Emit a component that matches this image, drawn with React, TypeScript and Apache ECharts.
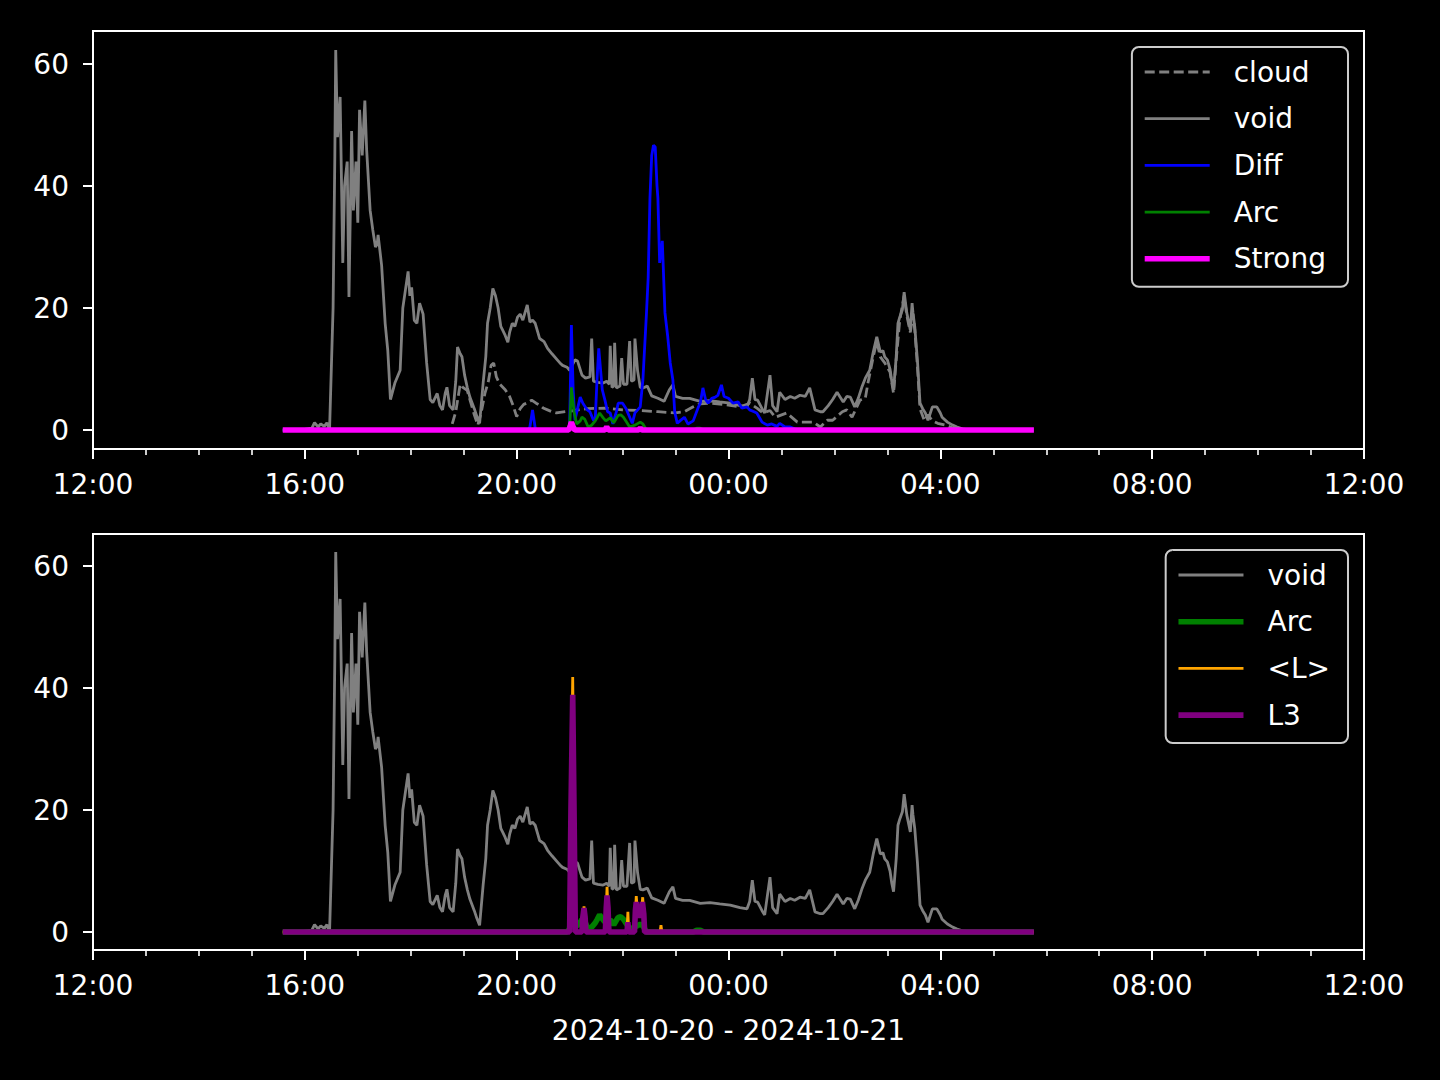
import React, { useEffect, useRef } from "react";
import * as echarts from "echarts";

// Time is given in minutes after 2024-10-20 12:00 (noon).
const X_TICK_MINUTES = [0, 240, 480, 720, 960, 1200, 1440];
const Y_TICKS = [0, 20, 40, 60];
const DATE_LABEL = "2024-10-20 - 2024-10-21";

const VOID: [number, number][] = [
  [215, 0], [235, 0], [248, 0.3], [251, 1.2], [255, 0.5], [258, 1.0], [262, 0.6], [265, 1.2], [268, 0],
  [272, 20], [274, 45], [275, 62.3], [277, 48], [280, 54.6], [283, 27.4], [285, 40], [288, 44], [290, 21.8],
  [293, 49], [295, 36], [298, 44], [300, 34], [302, 52.5], [305, 45], [308, 54], [310, 46], [314, 36],
  [317, 32.8], [320, 30], [322, 30.5], [323, 32], [327, 27], [331, 17.5], [334, 13], [337, 5], [342, 7.7],
  [348, 9.8], [351, 20], [355, 24], [357, 26], [359, 22], [361, 23.4], [364, 18], [367, 17.5], [370, 20.8],
  [374, 19], [378, 11], [382, 5], [385, 4.5], [390, 6], [393, 4], [396, 3.3], [399, 6], [401, 7], [404, 4],
  [408, 3.3], [411, 8], [413, 13.6], [416, 12.5], [418, 12], [421, 9], [424, 7], [427, 5.4], [432, 3.5],
  [435, 2.2], [438, 1.1], [442, 7.7], [445, 12], [447, 17.5], [450, 20], [453, 23.2], [456, 22], [459, 20],
  [462, 17], [464, 16.4], [467, 15.5], [470, 14.4], [472, 16], [475, 17.5], [478, 17], [481, 18.5], [484, 19],
  [487, 18], [492, 20.5], [495, 17.7], [498, 18], [501, 17.5], [504, 16], [506, 15], [511, 14.5], [515, 13.4],
  [520, 12.5], [526, 11.5], [529, 11], [532, 10.6], [537, 10.3], [540, 9.8], [546, 11.5], [549, 11.3],
  [554, 9], [558, 8.5], [563, 8.7], [565, 15], [567, 8], [572, 7.8], [578, 7.7], [582, 8], [585, 7.5],
  [586, 13.8], [588, 7], [590, 7.2], [591, 14.3], [593, 6.9], [597, 7.2], [599, 11.8], [601, 7.5], [605, 7.5],
  [608, 14.6], [610, 8], [613, 8.2], [614, 15], [617, 9.7], [620, 7], [623, 6.9], [628, 7.2], [633, 5.6],
  [640, 5.2], [647, 4.7], [653, 6.6], [657, 7.4], [660, 5.5], [668, 5.2], [676, 5.2], [688, 4.7], [699, 4.8],
  [710, 4.6], [722, 4.4], [733, 4.0], [741, 3.8], [744, 5], [747, 8.5], [750, 5], [753, 4.9], [758, 3.5],
  [761, 2.8], [767, 9], [770, 4], [775, 3], [778, 6.2], [784, 5], [790, 5.5], [795, 5.2], [801, 5.7],
  [807, 5.5], [812, 6.9], [818, 3.3], [824, 3], [827, 3], [833, 4], [838, 5], [843, 6.2], [850, 4.6],
  [854, 5.5], [858, 5.4], [863, 3.8], [867, 5.2], [871, 7], [875, 8.5], [880, 9.8], [884, 12.8], [888, 15.3],
  [892, 12.8], [895, 13], [897, 12], [900, 11.5], [903, 10], [905, 8], [907, 6.6], [910, 12], [912, 17.5],
  [914, 18.5], [917, 19.7], [919, 22.6], [922, 19.2], [926, 16.4], [928, 20.8], [929, 19.2], [931, 17],
  [934, 11.5], [937, 4.4], [940, 3.5], [943, 2.8], [946, 1.6], [951, 3.8], [956, 3.8], [960, 2.8], [962, 2.1],
  [968, 1.3], [974, 0.8], [979, 0.5], [985, 0.2], [994, 0], [1066, 0],
];

const CLOUD: [number, number][] = [
  [215, 0], [405, 0], [408, 1.5], [411, 3], [416, 7.5], [419, 7], [424, 6.5], [427, 5], [432, 2.5], [436, 0.8],
  [440, 3], [444, 6], [448, 8], [451, 10.6], [454, 11], [457, 8.7], [461, 7.5], [467, 6.6], [472, 5.5],
  [476, 4], [480, 2.2], [484, 3.5], [488, 4.2], [493, 4.5], [497, 4.9], [502, 4.4], [507, 4], [510, 3.6],
  [515, 3.3], [520, 3], [525, 2.8], [529, 2.9], [535, 3], [545, 3.2], [560, 3.5], [580, 3.6], [600, 3.3],
  [620, 3.2], [640, 3], [660, 2.8], [670, 3], [680, 3.8], [688, 4.3], [700, 4.4], [720, 4.1], [733, 3.8],
  [744, 4.4], [753, 3.5], [759, 2.8], [767, 3.2], [773, 2.1], [786, 2.8], [798, 1.3], [816, 1.3], [824, 0.5],
  [832, 1.6], [838, 1.6], [849, 3], [854, 3.3], [860, 2.1], [869, 4.9], [875, 5.2], [878, 7.7], [884, 12],
  [888, 14.5], [892, 12], [897, 11], [903, 9.5], [907, 6], [910, 11.5], [914, 18], [919, 22], [922, 18.8],
  [926, 16], [929, 19], [931, 16.5], [934, 10.5], [937, 3.5], [942, 1.5], [946, 2.5], [951, 1.5], [957, 1.1],
  [966, 0.8], [975, 0.3], [988, 0], [1066, 0],
];

const DIFF: [number, number][] = [
  [215, 0], [493, 0], [495, 0.5], [498, 3.3], [501, 0.3], [503, 0], [537, 0], [540, 0.5], [542, 17.2],
  [544, 6.6], [546, 1.6], [549, 3.5], [552, 5.4], [555, 4.4], [560, 3.3], [563, 3], [567, 1.6], [569, 1.6],
  [571, 8.2], [573, 13.4], [577, 6.6], [580, 4.9], [583, 3], [586, 2.8], [589, 1], [593, 3], [595, 4.4],
  [600, 4.4], [604, 3.5], [606, 2.8], [611, 1.1], [614, 2.8], [620, 3.8], [623, 8.2], [627, 19], [629, 25],
  [631, 38], [633, 45], [635, 46.7], [637, 46.4], [639, 40], [640, 38], [642, 27.4], [645, 31], [648, 19.2],
  [651, 15.5], [654, 11], [657, 8.2], [659, 3], [662, 1.1], [665, 1.5], [670, 2.1], [674, 1], [680, 1.5],
  [686, 3.8], [688, 4.4], [691, 6.9], [694, 5], [697, 4.4], [701, 5.2], [705, 5.4], [708, 5.7], [712, 7.4],
  [715, 5.5], [720, 5.2], [725, 4.4], [731, 4.6], [735, 3.6], [741, 3.8], [744, 3.3], [749, 3], [752, 2.8],
  [756, 1.8], [758, 1.3], [764, 0.8], [769, 1], [775, 0.6], [778, 1.1], [784, 0.5], [790, 0.5], [795, 0.2],
  [801, 0], [1066, 0],
];

const ARC: [number, number][] = [
  [215, 0], [537, 0], [540, 0.5], [542, 7], [545, 3], [548, 1], [552, 1.5], [554, 2.1], [557, 1.8],
  [561, 0.5], [565, 0.8], [569, 1.5], [571, 2], [574, 2.8], [578, 2], [581, 1.5], [586, 2], [590, 1.2],
  [595, 2.4], [598, 2.5], [601, 2.1], [605, 1.2], [608, 0.5], [614, 0.8], [620, 1.3], [623, 1], [627, 0],
  [680, 0], [684, 0.3], [688, 0.3], [692, 0], [1066, 0],
];

const STRONG: [number, number][] = [
  [215, 0], [539, 0], [541, 0.8], [542, 1.3], [544, 0.5], [546, 0], [580, 0], [582, 0.5], [584, 0],
  [618, 0], [620, 0.3], [622, 0], [1066, 0],
];

const L_MEAN: [number, number][] = [
  [215, 0], [540, 0], [541.5, 21], [543.5, 41.8], [545, 21], [546.5, 0], [554, 0], [556.3, 4.2], [558.5, 0],
  [580.5, 0], [582.4, 7.4], [584.5, 0], [605, 0], [606, 3.3], [607, 0], [613.5, 0], [615.5, 5.9], [617, 3],
  [619, 2.5], [621, 3], [622.8, 5.7], [625, 0], [642.5, 0], [643.5, 1.1], [644.5, 0], [1066, 0],
];

const L3: [number, number][] = [
  [215, 0], [540, 0], [541.5, 20], [543.5, 38.9], [545, 20], [546.5, 0], [554, 0], [555, 2.5], [556.3, 3.9],
  [557.5, 2.5], [558.5, 0], [580.5, 0], [581.5, 4], [582.4, 6], [583.5, 4], [584.5, 0], [605, 0], [606, 1.6],
  [607, 0], [613.5, 0], [614.5, 3.5], [615.5, 4.9], [617, 3], [619, 2.5], [621, 3], [622.5, 4.9], [624, 3],
  [625, 0], [1066, 0],
];

const GRAY = "#808080";
const BLUE = "#0000ff";
const GREEN = "#008000";
const MAGENTA = "#ff00ff";
const ORANGE = "#ffa500";
const PURPLE = "#800080";
const FONT = "DejaVu Sans";

const pad2 = (n: number) => (n < 10 ? "0" + n : "" + n);
const fmtTime = (m: number) => {
  const h = (12 + Math.floor(m / 60)) % 24;
  return pad2(h) + ":" + pad2(Math.round(m % 60));
};

export default function App() {
  const ref = useRef<HTMLDivElement>(null);

  useEffect(() => {
    if (!ref.current) return;
    const chart = echarts.init(ref.current, undefined, { renderer: "svg" });

    const xAxisBase = (gridIndex: number, withName: boolean) => ({
      type: "value",
      gridIndex,
      min: X_TICK_MINUTES[0],
      max: X_TICK_MINUTES[X_TICK_MINUTES.length - 1],
      interval: 240,
      axisLine: { show: true, onZero: false, lineStyle: { color: "#fff", width: 2 } },
      axisTick: { show: true, inside: false, length: 10, lineStyle: { color: "#fff", width: 2 } },
      minorTick: { show: true, splitNumber: 4, length: 6, lineStyle: { color: "#fff", width: 1.6 } },
      axisLabel: {
        color: "#fff",
        fontSize: 28,
        fontFamily: FONT,
        margin: 21,
        formatter: (v: number) => fmtTime(v),
      },
      splitLine: { show: false },
      minorSplitLine: { show: false },
      ...(withName
        ? {
            name: DATE_LABEL,
            nameLocation: "middle",
            nameGap: 66,
            nameTextStyle: { color: "#fff", fontSize: 28, fontFamily: FONT },
          }
        : {}),
    });

    const yAxisBase = (gridIndex: number, min: number, max: number) => ({
      type: "value",
      gridIndex,
      min,
      max,
      axisLine: { show: true, onZero: false, lineStyle: { color: "#fff", width: 2 } },
      axisTick: {
        show: true,
        inside: false,
        length: 10,
        customValues: Y_TICKS,
        lineStyle: { color: "#fff", width: 2 },
      },
      axisLabel: {
        color: "#fff",
        fontSize: 28,
        fontFamily: FONT,
        margin: 24,
        customValues: Y_TICKS,
      },
      splitLine: { show: false },
    });

    const line = (
      name: string,
      data: [number, number][],
      color: string,
      width: number,
      idx: number,
      z: number,
      type: any = "solid"
    ) => ({
      name,
      type: "line",
      xAxisIndex: idx,
      yAxisIndex: idx,
      data,
      symbol: "none",
      showSymbol: false,
      smooth: false,
      z,
      color,
      lineStyle: { color, width, type },
      emphasis: { disabled: true },
    });

    const hidden = { opacity: 0, color: "rgba(0,0,0,0)", borderWidth: 0 };

    const legendBase = {
      orient: "vertical",
      backgroundColor: "#000",
      borderColor: "#cccccc",
      borderWidth: 2,
      borderRadius: 7,
      itemWidth: 65,
      itemHeight: 20,
      itemGap: 18.7,
      selectedMode: false,
      itemStyle: hidden,
      textStyle: { color: "#fff", fontSize: 28, fontFamily: FONT, lineHeight: 28, padding: [0, 0, 0, 19] },
    };

    chart.setOption({
      animation: false,
      backgroundColor: "#000",
      grid: [
        { left: 93, right: 76, top: 31, height: 418, show: true, borderColor: "#fff", borderWidth: 2, backgroundColor: "transparent" },
        { left: 93, right: 76, top: 534, height: 416, show: true, borderColor: "#fff", borderWidth: 2, backgroundColor: "transparent" },
      ],
      xAxis: [xAxisBase(0, false), xAxisBase(1, true)],
      yAxis: [yAxisBase(0, -3.11, 65.41), yAxisBase(1, -2.95, 65.25)],
      legend: [
        {
          ...legendBase,
          right: 92,
          top: 47,
          padding: [11, 22, 14, 10],
          data: [
            { name: "cloud", itemStyle: hidden, lineStyle: { color: GRAY, width: 2.8, type: [10, 4.5] } },
            { name: "void", itemStyle: hidden, lineStyle: { color: GRAY, width: 2.8 } },
            { name: "Diff", itemStyle: hidden, lineStyle: { color: BLUE, width: 2.8 } },
            { name: "Arc", itemStyle: hidden, lineStyle: { color: GREEN, width: 2.8 } },
            { name: "Strong", itemStyle: hidden, lineStyle: { color: MAGENTA, width: 5.6 } },
          ],
        },
        {
          ...legendBase,
          right: 92,
          top: 550,
          padding: [11, 18, 14, 10],
          data: [
            { name: "void", itemStyle: hidden, lineStyle: { color: GRAY, width: 2.8 } },
            { name: "Arc", itemStyle: hidden, lineStyle: { color: GREEN, width: 5.6 } },
            { name: "<L>", itemStyle: hidden, lineStyle: { color: ORANGE, width: 2.8 } },
            { name: "L3", itemStyle: hidden, lineStyle: { color: PURPLE, width: 5.6 } },
          ],
        },
      ],
      series: [
        line("cloud", CLOUD, GRAY, 2.8, 0, 2, [10, 4.5]),
        line("void", VOID, GRAY, 2.8, 0, 3),
        line("Diff", DIFF, BLUE, 2.8, 0, 4),
        line("Arc", ARC, GREEN, 2.8, 0, 5),
        line("Strong", STRONG, MAGENTA, 5.6, 0, 6),
        line("void", VOID, GRAY, 2.8, 1, 3),
        line("Arc", ARC, GREEN, 5.6, 1, 4),
        line("<L>", L_MEAN, ORANGE, 2.8, 1, 5),
        line("L3", L3, PURPLE, 5.6, 1, 6),
      ],
    });

    return () => chart.dispose();
  }, []);

  return (
    <div
      ref={ref}
      style={{ position: "fixed", left: 0, top: 0, width: 1440, height: 1080, background: "#000" }}
    />
  );
}
